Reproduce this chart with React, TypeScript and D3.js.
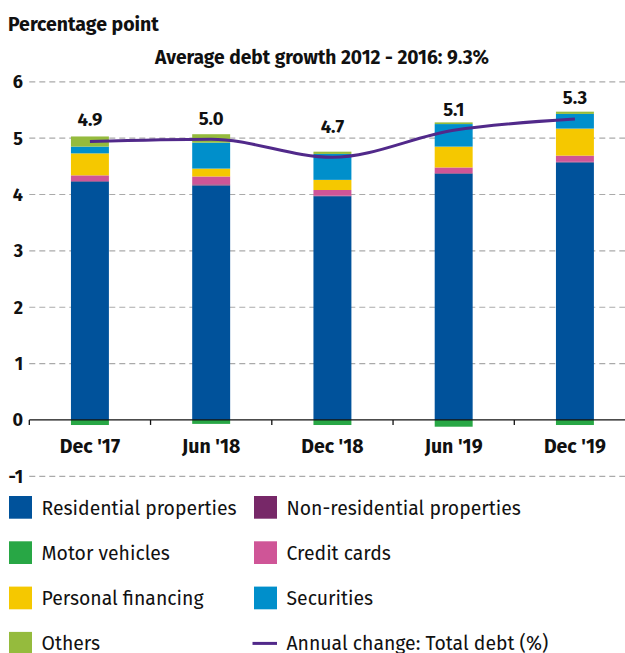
import React from "react";
import * as d3 from "d3";

const categories = ["Dec '17", "Jun '18", "Dec '18", "Jun '19", "Dec '19"];
const residential = [4.23, 4.16, 3.97, 4.37, 4.57];
const nonResidential = [0.01, 0.02, 0.01, 0.01, 0.01];
const motorVehicles = [-0.09, -0.07, -0.09, -0.12, -0.09];
const creditCards = [0.1, 0.14, 0.1, 0.1, 0.11];
const personalFinancing = [0.39, 0.14, 0.18, 0.37, 0.48];
const securities = [0.12, 0.46, 0.46, 0.4, 0.26];
const others = [0.18, 0.15, 0.04, 0.03, 0.04];
const totalDebtChange = [4.94, 4.98, 4.66, 5.14, 5.34];
const totalLabels = ["4.9", "5.0", "4.7", "5.1", "5.3"];
const labelAnchor = [5.22, 5.24, 5.1, 5.39, 5.6];
const yTicks = [-1, 0, 1, 2, 3, 4, 5, 6];

const series = [
  { name: "Residential properties", values: residential, color: "#00529b" },
  { name: "Non-residential properties", values: nonResidential, color: "#772868" },
  { name: "Motor vehicles", values: motorVehicles, color: "#28a745" },
  { name: "Credit cards", values: creditCards, color: "#cf5597" },
  { name: "Personal financing", values: personalFinancing, color: "#f5c800" },
  { name: "Securities", values: securities, color: "#008fcb" },
  { name: "Others", values: others, color: "#95bb3d" },
];
const lineName = "Annual change: Total debt (%)";
const lineColor = "#51298a";

const legendOrder = [
  ["Residential properties", "Non-residential properties"],
  ["Motor vehicles", "Credit cards"],
  ["Personal financing", "Securities"],
  ["Others", lineName],
];

const FONT = "'Fira Sans', Roboto, 'Noto Sans', sans-serif";

export default function App() {
  const W = 625;
  const H = 653;
  const x0 = 29.3;
  const band = 121.25;
  const x = d3
    .scaleBand<string>()
    .domain(categories)
    .range([x0, x0 + band * categories.length])
    .paddingInner(0.687)
    .paddingOuter(0.3435);
  const y = d3.scaleLinear().domain([-1, 6]).range([476.3, 81.8]);

  const rects: any[] = [];
  categories.forEach((c, i) => {
    let pos = 0;
    let neg = 0;
    series.forEach((s) => {
      const v = s.values[i];
      let a: number, b: number;
      if (v >= 0) {
        a = pos;
        b = pos + v;
        pos = b;
      } else {
        a = neg + v;
        b = neg;
        neg = a;
      }
      rects.push(
        <rect
          key={c + s.name}
          x={x(c)}
          width={x.bandwidth()}
          y={y(b)}
          height={Math.max(0, y(a) - y(b))}
          fill={s.color}
        />
      );
    });
  });

  const line = d3
    .line<number>()
    .x((_, i) => (x(categories[i]) as number) + x.bandwidth() / 2)
    .y((d) => y(d))
    .curve(d3.curveMonotoneX);

  const bandX = d3
    .scaleLinear()
    .domain([0, categories.length])
    .range([x0, x0 + band * categories.length]);

  const colorOf = (n: string) => series.find((s) => s.name === n)?.color;

  return (
    <svg
      width={W}
      height={H}
      style={{ position: "absolute", left: 0, top: 0, background: "#fff" }}
      fontFamily={FONT}
    >
      <text x={8} y={31} fontSize={19.5} fontWeight={700} fill="#111">
        Percentage point
      </text>
      <text x={322} y={64} fontSize={19.2} fontWeight={700} fill="#111" textAnchor="middle">
        Average debt growth 2012 - 2016: 9.3%
      </text>

      {yTicks.map((t) => (
        <g key={t}>
          {t !== 0 && (
            <line
              x1={x0}
              x2={W}
              y1={y(t)}
              y2={y(t)}
              stroke="#aaa"
              strokeWidth={1.2}
              strokeDasharray="6,4"
            />
          )}
          <text
            x={23}
            y={y(t)}
            dy="0.36em"
            textAnchor="end"
            fontSize={18}
            fontWeight={700}
            fill="#111"
          >
            {t}
          </text>
        </g>
      ))}

      {rects}

      <line x1={x0} x2={W} y1={y(0)} y2={y(0)} stroke="#111" strokeWidth={1.3} />
      {d3.range(categories.length + 1).map((i) => (
        <line
          key={i}
          x1={bandX(i)}
          x2={bandX(i)}
          y1={y(0)}
          y2={y(0) + 5}
          stroke="#111"
          strokeWidth={1.3}
        />
      ))}
      {categories.map((c) => (
        <text
          key={c}
          x={(x(c) as number) + x.bandwidth() / 2}
          y={453}
          textAnchor="middle"
          fontSize={19.5}
          fontWeight={700}
          fill="#111"
        >
          {c}
        </text>
      ))}

      <path d={line(totalDebtChange) || ""} fill="none" stroke={lineColor} strokeWidth={3} />

      {categories.map((c, i) => (
        <text
          key={"l" + c}
          x={(x(c) as number) + x.bandwidth() / 2}
          y={y(labelAnchor[i])}
          textAnchor="middle"
          fontSize={18.5}
          fontWeight={700}
          fill="#111"
        >
          {totalLabels[i]}
        </text>
      ))}

      {legendOrder.map((row, r) =>
        row.map((name, col) => {
          const lx = col === 0 ? 9 : 254;
          const ly = 496 + r * 45.3;
          const isLine = name === lineName;
          return (
            <g key={name}>
              {isLine ? (
                <line
                  x1={lx - 1.5}
                  x2={lx + 23}
                  y1={ly + 11.5}
                  y2={ly + 11.5}
                  stroke={lineColor}
                  strokeWidth={3}
                />
              ) : (
                <rect x={lx} y={ly} width={23} height={22.7} fill={colorOf(name)} />
              )}
              <text x={lx + 32.5} y={ly + 18.5} fontSize={19.4} fill="#111">
                {name}
              </text>
            </g>
          );
        })
      )}
    </svg>
  );
}
